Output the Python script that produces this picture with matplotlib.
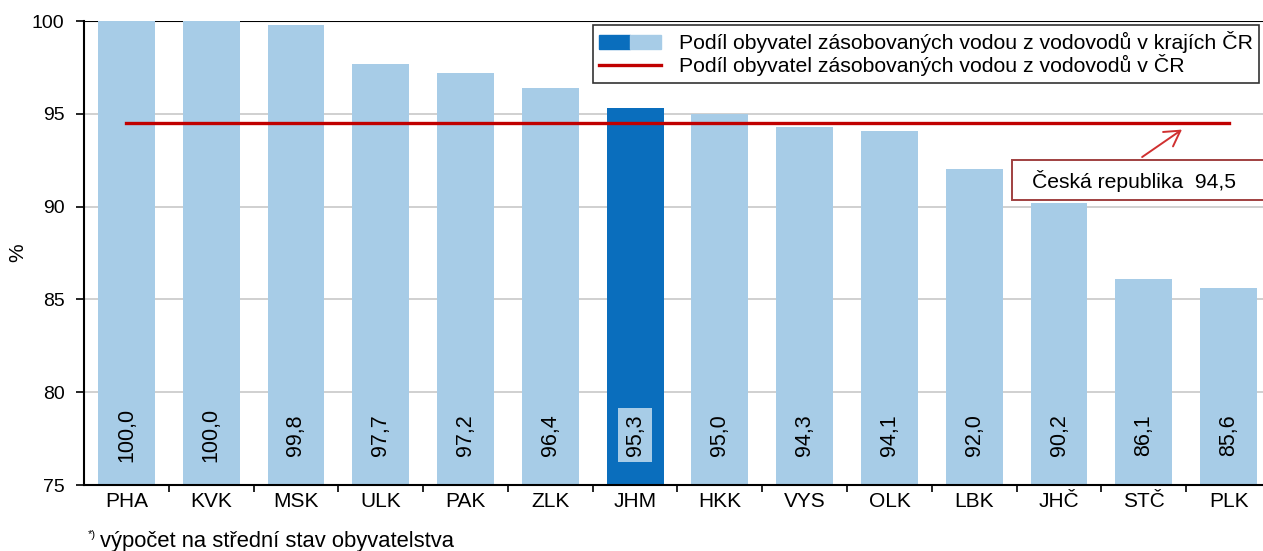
import matplotlib
matplotlib.use("Agg")
import matplotlib.pyplot as plt
from matplotlib.patches import Patch, Rectangle
from matplotlib.lines import Line2D
from matplotlib.legend_handler import HandlerTuple

plt.rcParams['font.family'] = ['Liberation Sans', 'DejaVu Sans']

regions = ["PHA", "KVK", "MSK", "ULK", "PAK", "ZLK", "JHM", "HKK", "VYS", "OLK", "LBK", "JHČ", "STČ", "PLK"]
values = [100.0, 100.0, 99.8, 97.7, 97.2, 96.4, 95.3, 95.0, 94.3, 94.1, 92.0, 90.2, 86.1, 85.6]
highlight = "JHM"
cr_value = 94.5
yticks = [75, 80, 85, 90, 95, 100]

light = "#A7CCE7"
dark = "#0A6EBD"
red = "#C00000"

W, H = 1263, 551
fig = plt.figure(figsize=(W / 100, H / 100), dpi=100)
ax = fig.add_axes([84 / W, 1 - 485 / H, (1271 - 84) / W, (485 - 21) / H])

x = list(range(len(regions)))
colors = [dark if r == highlight else light for r in regions]
ax.bar(x, [v - 75 for v in values], bottom=75, width=0.67, color=colors, zorder=2)

ax.set_xlim(-0.5, len(regions) - 0.5)
ax.set_ylim(75, 100)
ax.set_yticks(yticks)
ax.set_yticklabels([str(t) for t in yticks], fontsize=14)
for t in yticks[1:-1]:
    ax.axhline(t, color="#C8C8C8", lw=1.2, zorder=1)
ax.axhline(100, color="black", lw=1.5, zorder=1)

ax.set_xticks(x)
ax.set_xticklabels(regions, fontsize=15)
ax.set_xticks([i + 0.5 for i in x[:-1]], minor=True)
ax.tick_params(axis="x", which="major", length=0, pad=5)
ax.tick_params(axis="x", which="minor", length=5, width=1.2, direction="out", color="black")
ax.tick_params(axis="y", length=6, width=1.2, direction="out", color="black", pad=8)

for s in ["top", "right"]:
    ax.spines[s].set_visible(False)
ax.spines["left"].set_linewidth(1.5)
ax.spines["bottom"].set_linewidth(1.5)

for xi, v, r in zip(x, values, regions):
    lbl = f"{v:.1f}".replace(".", ",")
    kw = {}
    if r == highlight:
        kw["bbox"] = dict(boxstyle="square,pad=0.3", fc=light, ec="none")
    ax.text(xi, 77.7, lbl, rotation=90, ha="center", va="center", fontsize=15.5, zorder=4, **kw)

ax.plot([0, len(regions) - 1], [cr_value, cr_value], color=red, lw=2.4, zorder=3)

ax.set_ylabel("%", fontsize=15)
ax.yaxis.set_label_coords(-0.048, 0.5)

# annotation
ax.annotate("", xy=(12.45, 94.15), xytext=(11.98, 92.67),
            arrowprops=dict(arrowstyle="->,head_length=0.6,head_width=0.35", color="#D03030", lw=1.4,
                            mutation_scale=18, shrinkA=0, shrinkB=0), zorder=5)
fig.add_artist(Rectangle((1012 / W, 1 - 200 / H), (1275 - 1012) / W, 40 / H,
                         transform=fig.transFigure, fc="white", ec="#A04040", lw=1.4, zorder=5))
fig.text(1032 / W, 1 - 181 / H, "Česká republika  94,5", fontsize=15.2, va="center", ha="left", zorder=6)

handles = [(Patch(color=dark), Patch(color=light)),
           Line2D([], [], color=red, lw=2.4)]
labels = ["Podíl obyvatel zásobovaných vodou z vodovodů v krajích ČR",
          "Podíl obyvatel zásobovaných vodou z vodovodů v ČR"]
leg = fig.legend(handles, labels, loc="upper left", bbox_to_anchor=(593 / W, 1 - 25 / H),
                 handler_map={tuple: HandlerTuple(ndivide=None, pad=0)},
                 fontsize=15.3, frameon=True, fancybox=False, edgecolor="black",
                 borderpad=0.3, labelspacing=0.05, handlelength=2.9, handletextpad=0.85,
                 borderaxespad=0)
leg.get_frame().set_linewidth(1.2)

fig.text(88 / W, 1 - 540 / H, "*)", fontsize=8, va="bottom", ha="left")
fig.text(100 / W, 1 - 541 / H, "výpočet na střední stav obyvatelstva", fontsize=15.8, va="center", ha="left")

fig.savefig("out.png", dpi=100)
